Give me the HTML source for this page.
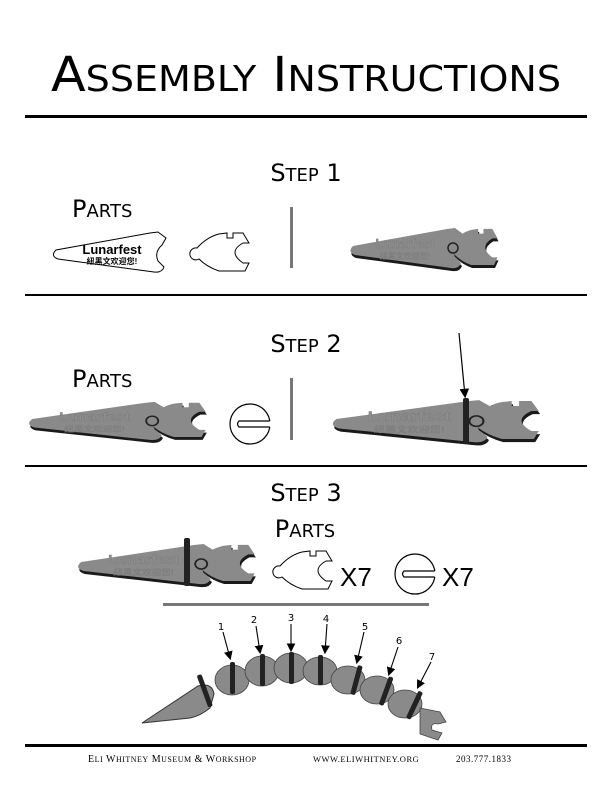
<!DOCTYPE html>
<html><head><meta charset="utf-8"><style>
html,body{margin:0;padding:0;background:#fff}
svg{display:block}
.sc{font-family:"DejaVu Sans","Liberation Sans",sans-serif}
</style></head><body>
<svg width="612" height="792" viewBox="0 0 612 792" xmlns="http://www.w3.org/2000/svg">
<defs>
<g id="wedge">
<path d="M6,20 Q0,26 8,29 L104,42 Q112,43 114,37 L108,31 Q104,22 112,15 L116,8 L108,2 L100,3 Z"/>
</g>
<g id="conn">
<path d="M10,17 Q20,6 32,3 L40,2 L40,7 L46,7 L46,2 L56,2 L62,12 L56,12 Q40,21 56,32 L62,32 L58,40 L32,40 Q20,36 12,28 A6,6 0 1 1 10,17 Z"/>
</g>
<g id="asm">
<g transform="translate(1,3)" fill="#1a1a1a"><use href="#wedge"/><use href="#conn" transform="translate(96,1) scale(0.88,0.95)"/></g>
<g fill="#8a8a8a"><use href="#wedge"/><use href="#conn" transform="translate(96,1) scale(0.88,0.95)"/></g>
<circle cx="106" cy="22" r="5" fill="none" stroke="#222" stroke-width="1.5"/>
<text x="58" y="22" font-family="Liberation Sans,sans-serif" font-weight="bold" font-size="13" fill="#8f8f8f" stroke="#7a7a7a" stroke-width="0.4" text-anchor="middle">Lunarfest</text>
<text x="58" y="33" font-family="Liberation Sans,'Noto Sans CJK SC',sans-serif" font-weight="bold" font-size="8" fill="#7e7e7e" text-anchor="middle">紐黑文欢迎您!</text>
</g>
<g id="ring"><circle cx="0" cy="0" r="20" fill="#fff" stroke="#000" stroke-width="1.2"/>
<rect x="-12" y="-3" width="34" height="6" fill="#fff"/>
<path d="M19.8,-3 L-11,-3 Q-14,0 -11,3 L19.8,3" fill="none" stroke="#000" stroke-width="1.2"/></g>
<marker id="ah" markerWidth="8" markerHeight="8" refX="6" refY="4" orient="auto"><path d="M0,0 L8,4 L0,8 Z" fill="#000"/></marker>
</defs>

<text x="306" y="91" text-anchor="middle" font-family="DejaVu Sans,sans-serif" font-size="48" textLength="510" lengthAdjust="spacingAndGlyphs">A<tspan font-size="36">SSEMBLY</tspan> I<tspan font-size="36">NSTRUCTIONS</tspan></text>
<rect x="25" y="115" width="562" height="3" fill="#000"/>

<g class="sc" font-size="24" text-anchor="middle">
<text x="306" y="181">S<tspan font-size="18">TEP</tspan> 1</text>
<text x="306" y="352">S<tspan font-size="18">TEP</tspan> 2</text>
<text x="306" y="501">S<tspan font-size="18">TEP</tspan> 3</text>
<text x="305" y="537">P<tspan font-size="18">ARTS</tspan></text>
</g>
<g class="sc" font-size="24">
<text x="72" y="217">P<tspan font-size="18">ARTS</tspan></text>
<text x="72" y="387">P<tspan font-size="18">ARTS</tspan></text>
</g>

<g transform="translate(50,230)" fill="#fff" stroke="#000" stroke-width="1">
<use href="#wedge"/>
<text x="62" y="24" font-family="Liberation Sans,sans-serif" font-weight="bold" font-size="13" fill="#000" stroke="none" text-anchor="middle">Lunarfest</text>
<text x="62" y="34" font-family="Liberation Sans,'Noto Sans CJK SC',sans-serif" font-weight="bold" font-size="8" fill="#000" stroke="none" text-anchor="middle">紐黑文欢迎您!</text>
</g>
<g transform="translate(187,231)" fill="#fff" stroke="#000" stroke-width="1"><use href="#conn"/></g>
<rect x="290" y="207" width="3" height="61" fill="#777"/>
<use href="#asm" transform="translate(347,226)"/>

<rect x="25" y="294" width="562" height="2" fill="#000"/>

<use href="#asm" transform="translate(25,400) scale(1.2,0.95)"/>
<use href="#ring" transform="translate(250,424)"/>
<rect x="290" y="378" width="3" height="62" fill="#777"/>
<use href="#asm" transform="translate(328,398) scale(1.4,1.05)"/>
<rect x="463" y="398" width="6" height="46" rx="2" fill="#222"/>
<line x1="459" y1="333" x2="465" y2="396" stroke="#000" stroke-width="1.2" marker-end="url(#ah)"/>

<rect x="25" y="465" width="562" height="2" fill="#000"/>

<use href="#asm" transform="translate(74,542) scale(1.2,1)"/>
<rect x="184" y="538" width="6" height="48" rx="2" fill="#222"/>
<g transform="translate(270,549)" fill="#fff" stroke="#000" stroke-width="1"><use href="#conn"/></g>
<text x="340" y="586" font-family="Liberation Sans,sans-serif" font-size="26">X7</text>
<use href="#ring" transform="translate(415,574)"/>
<text x="442" y="586" font-family="Liberation Sans,sans-serif" font-size="26">X7</text>
<rect x="163" y="603" width="266" height="3" fill="#777"/>

<path d="M142,723 L198,686 Q212,682 214,694 L210,708 Q200,716 190,718 Z" fill="#8a8a8a" stroke="#333" stroke-width="1"/>
<g fill="#8a8a8a" stroke="#444" stroke-width="0.8">
<ellipse cx="232" cy="680" rx="17" ry="15"/>
<ellipse cx="262" cy="671" rx="17" ry="15"/>
<ellipse cx="291" cy="668" rx="17" ry="15"/>
<ellipse cx="320" cy="671" rx="17" ry="14"/>
<ellipse cx="348" cy="680" rx="17" ry="14"/>
<ellipse cx="377" cy="690" rx="17" ry="14"/>
<ellipse cx="405" cy="704" rx="17" ry="14"/>
<path d="M420,708 L440,712 L446,722 L438,724 Q430,722 432,730 L442,733 L438,740 L420,734 Z"/>
</g>
<g fill="#222">
<rect x="202" y="674" width="5" height="34" rx="2" transform="rotate(-20 204 690)"/>
<rect x="230" y="662" width="5" height="32" rx="2"/>
<rect x="260" y="654" width="5" height="32" rx="2"/>
<rect x="289" y="652" width="5" height="32" rx="2"/>
<rect x="318" y="655" width="5" height="30" rx="2"/>
<rect x="354" y="665" width="5" height="30" rx="2" transform="rotate(15 356 680)"/>
<rect x="384" y="676" width="5" height="30" rx="2" transform="rotate(20 386 690)"/>
<rect x="412" y="690" width="5" height="30" rx="2" transform="rotate(25 414 705)"/>
</g>
<g stroke="#000" stroke-width="1.1" marker-end="url(#ah)">
<line x1="223" y1="632" x2="230" y2="658"/>
<line x1="256" y1="626" x2="260" y2="652"/>
<line x1="291" y1="624" x2="291" y2="650"/>
<line x1="327" y1="624" x2="325" y2="652"/>
<line x1="364" y1="632" x2="357" y2="662"/>
<line x1="398" y1="647" x2="389" y2="674"/>
<line x1="431" y1="662" x2="418" y2="687"/>
</g>
<g font-family="DejaVu Sans,sans-serif" font-size="10" text-anchor="middle">
<text x="221" y="630">1</text><text x="254" y="623">2</text><text x="291" y="621">3</text>
<text x="326" y="622">4</text><text x="365" y="630">5</text><text x="399" y="644">6</text><text x="432" y="660">7</text>
</g>

<rect x="25" y="744" width="562" height="3" fill="#000"/>
<g font-family="Liberation Serif,serif" font-size="10" letter-spacing="0.5">
<text x="88" y="762">E<tspan font-size="8">LI</tspan> W<tspan font-size="8">HITNEY</tspan> M<tspan font-size="8">USEUM</tspan> &amp; W<tspan font-size="8">ORKSHOP</tspan></text>
<text x="313" y="762" font-size="8.5">WWW.ELIWHITNEY.ORG</text>
<text x="456" y="762" font-size="9">203.777.1833</text>
</g>
</svg>
</body></html>
